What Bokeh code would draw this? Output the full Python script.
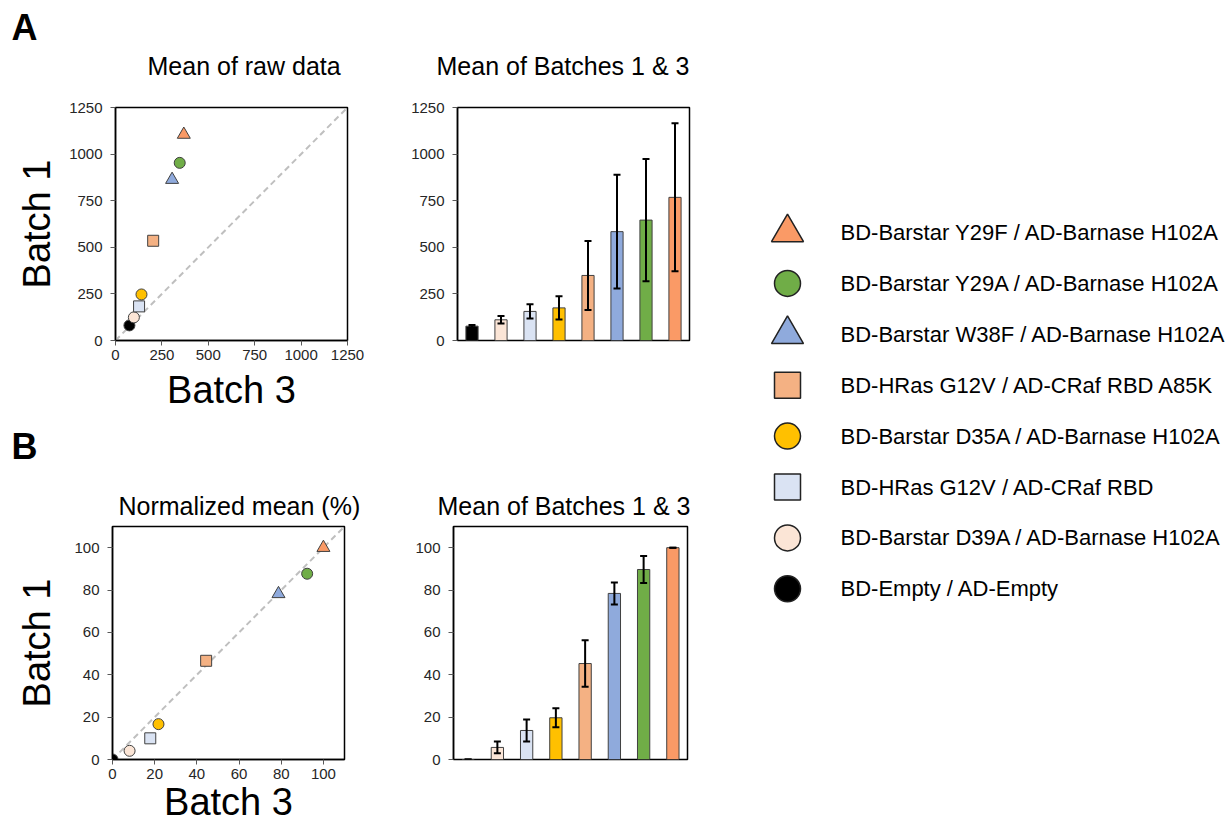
from bokeh.plotting import figure
from bokeh.models import Range1d, FactorRange, ColumnDataSource, Whisker, TeeHead, Title, FixedTicker
from bokeh.layouts import row, column
from bokeh.embed import file_html
from bokeh.resources import INLINE
from bokeh.core.properties import value

# ---------------- data ----------------
names = [
    "BD-Barstar Y29F / AD-Barnase H102A",
    "BD-Barstar Y29A / AD-Barnase H102A",
    "BD-Barstar W38F / AD-Barnase H102A",
    "BD-HRas G12V / AD-CRaf RBD A85K",
    "BD-Barstar D35A / AD-Barnase H102A",
    "BD-HRas G12V / AD-CRaf RBD",
    "BD-Barstar D39A / AD-Barnase H102A",
    "BD-Empty / AD-Empty",
]
markers = ["triangle", "circle", "triangle", "square", "circle", "square", "circle", "circle"]
colors = ["#FA9A66", "#70AD47", "#8FAADC", "#F4B183", "#FFC000", "#DAE3F3", "#FBE5D6", "#000000"]

raw_batch3 = [368, 346, 305, 203, 140, 127, 99, 75]
raw_batch1 = [1105, 953, 863, 535, 247, 183, 124, 81]
raw_mean = [768, 646, 584, 349, 175, 156, 111, 77]
raw_err = [397, 328, 305, 185, 63, 38, 20, 6]

norm_batch3 = [100, 92.3, 78.7, 44.4, 21.8, 17.9, 8.1, 0]
norm_batch1 = [100, 87.7, 78.2, 46.6, 16.7, 10.0, 4.1, 0]
norm_mean = [100, 89.7, 78.4, 45.3, 19.7, 13.7, 5.7, 0]
norm_err = [0, 6.4, 5.2, 11.0, 4.5, 5.2, 2.8, 0]

raw_ticks = [0, 250, 500, 750, 1000, 1250]
raw_lim = 1250
norm_ticks = [0, 20, 40, 60, 80, 100]
norm_lim = 110

FONT = "Liberation Sans"
TICK_COLOR = "#262626"

TOP_H = 481           # height of the upper row
BOT_H = 825 - TOP_H   # height of the lower row


def add_title(p, text, offset, standoff, place="above", size="25px", bold=False, valign="bottom"):
    t = Title(text=text, align="left", offset=offset, standoff=standoff,
              vertical_align=valign,
              text_font=FONT, text_font_size=size,
              text_font_style="bold" if bold else "normal", text_color="black")
    p.add_layout(t, place)


def style(p, ticks, xl_stand=None, yl_stand=None):
    p.outline_line_color = "black"
    p.outline_line_width = 1.5
    p.xgrid.visible = False
    p.ygrid.visible = False
    for ax in p.axis:
        ax.major_tick_in = 0
        ax.major_tick_out = 5
        ax.minor_tick_line_color = None
        ax.major_tick_line_color = "#595959"
        ax.axis_line_color = "black"
        ax.axis_line_width = 1.5
        ax.major_label_text_font = FONT
        ax.major_label_text_font_size = "15px"
        ax.major_label_text_color = TICK_COLOR
        ax.axis_label_text_font = FONT
        ax.axis_label_text_font_size = "38px"
        ax.axis_label_text_font_style = "normal"
        ax.axis_label_text_color = "black"
    p.yaxis.ticker = FixedTicker(ticks=ticks)
    p.yaxis.major_label_standoff = 8
    p.xaxis.major_label_standoff = 4
    if xl_stand is not None:
        p.xaxis.axis_label_standoff = xl_stand
    if yl_stand is not None:
        p.yaxis.axis_label_standoff = yl_stand


def scatter_fig(xs, ys, lim, ticks, W, H, bl, br, bt, bb, xls, yls):
    p = figure(width=W, height=H, x_range=Range1d(0, lim), y_range=Range1d(0, lim),
               output_backend="svg", toolbar_location=None, title=None,
               min_border_left=bl, min_border_right=br, min_border_top=bt, min_border_bottom=bb,
               x_axis_label="Batch 3", y_axis_label="Batch 1")
    style(p, ticks, xls, yls)
    p.xaxis.ticker = FixedTicker(ticks=ticks)
    p.line(x=[0, lim], y=[0, lim], line_color="#BFBFBF", line_width=2, line_dash="6 4")
    sizes = [13 if m == "triangle" else 11 for m in markers]
    src = ColumnDataSource(dict(x=xs[::-1], y=ys[::-1], m=markers[::-1], c=colors[::-1], s=sizes[::-1]))
    p.scatter("x", "y", marker="m", fill_color="c", size="s", line_color="#404040",
              line_width=1, source=src)
    return p


def bar_fig(vals, errs, lim, ticks, W, H, bl, br, bt, bb):
    cats = names[::-1]
    p = figure(width=W, height=H, x_range=FactorRange(*cats), y_range=Range1d(0, lim),
               output_backend="svg", toolbar_location=None, title=None,
               min_border_left=bl, min_border_right=br, min_border_top=bt, min_border_bottom=bb)
    style(p, ticks)
    p.xaxis.visible = False
    v = vals[::-1]
    e = errs[::-1]
    src = ColumnDataSource(dict(cat=cats, val=v, c=colors[::-1],
                                upper=[a + b for a, b in zip(v, e)],
                                lower=[a - b for a, b in zip(v, e)]))
    p.vbar(x="cat", top="val", width=0.42, fill_color="c", line_color="#404040",
           line_width=1, source=src)
    p.add_layout(Whisker(source=src, base="cat", upper="upper", lower="lower",
                         level="annotation",
                         line_color="black", line_width=2,
                         upper_head=TeeHead(size=7, line_width=2, line_color="black"),
                         lower_head=TeeHead(size=7, line_width=2, line_color="black")))
    return p


# frames: A plots y 107..340, B plots y 526..759
a1 = scatter_fig(raw_batch3, raw_batch1, raw_lim, raw_ticks, 400, TOP_H, 115, 53, 107, TOP_H - 340, 6, 8)
a2 = bar_fig(raw_mean, raw_err, raw_lim, raw_ticks, 340, TOP_H, 57, 51, 107, TOP_H - 340)
b1 = scatter_fig(norm_batch3, norm_batch1, norm_lim, norm_ticks, 400, BOT_H, 112, 56,
                 526 - TOP_H, 66, -1, 13)
b2 = bar_fig(norm_mean, norm_err, norm_lim, norm_ticks, 340, BOT_H, 53, 53, 526 - TOP_H, 66)

# titles (nearest to frame first), then panel letter stacked above
add_title(a1, "Mean of raw data", 32, 56)
add_title(a2, "Mean of Batches 1 & 3", -21, 56)
add_title(b1, "Normalized mean (%)", 6, 13)
add_title(b2, "Mean of Batches 1 & 3", -16, 13)
add_title(a1, "A", -104, -53, size="36px", bold=True)
# letter B sits below the upper-left plot's x axis label
add_title(a1, "B", -104, 25, place="below", size="36px", bold=True, valign="top")

# ---------------- legend panel ----------------
LEG_TOP = 232
LEG_STEP = 50.9
leg = figure(width=492, height=825, x_range=Range1d(0, 492), y_range=Range1d(825, 0),
             output_backend="svg", toolbar_location=None, title=None,
             min_border=0, x_axis_location=None, y_axis_location=None)
leg.outline_line_color = None
leg.xgrid.visible = False
leg.ygrid.visible = False
ly = [LEG_TOP + i * LEG_STEP for i in range(len(names))]
lsz = [32 if m == "triangle" else 26 for m in markers]
lsrc = ColumnDataSource(dict(x=[47] * len(names), tx=[100] * len(names), y=ly, m=markers,
                             c=colors, s=lsz, t=names))
leg.scatter("x", "y", marker="m", fill_color="c", size="s", line_color="#222222",
            line_width=1.5, source=lsrc)
leg.text("tx", "y", text="t", text_font=value(FONT), text_font_size="22px",
         text_baseline="middle", text_align="left", text_color="black", source=lsrc)

layout = row(column(row(a1, a2), row(b1, b2)), leg)

open("out.html", "w").write(file_html(layout, INLINE))
